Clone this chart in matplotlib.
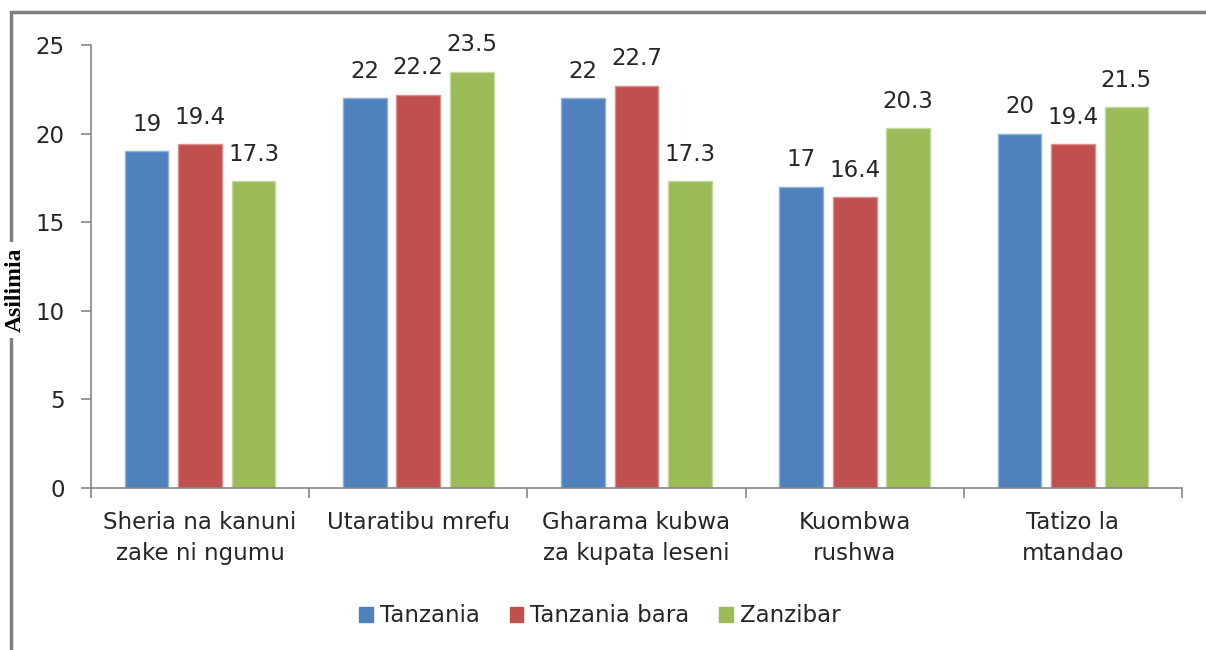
import matplotlib
matplotlib.use("Agg")
import matplotlib.pyplot as plt
import numpy as np
from matplotlib.patches import Rectangle

categories = ["Sheria na kanuni\nzake ni ngumu", "Utaratibu mrefu",
              "Gharama kubwa\nza kupata leseni", "Kuombwa\nrushwa", "Tatizo la\nmtandao"]
series_names = ["Tanzania", "Tanzania bara", "Zanzibar"]
tanzania = [19, 22, 22, 17, 20]
tanzania_bara = [19.4, 22.2, 22.7, 16.4, 19.4]
zanzibar = [17.3, 23.5, 17.3, 20.3, 21.5]
label_tanzania = ["19", "22", "22", "17", "20"]
label_bara = ["19.4", "22.2", "22.7", "16.4", "19.4"]
label_zanzibar = ["17.3", "23.5", "17.3", "20.3", "21.5"]
yticks = [0, 5, 10, 15, 20, 25]

colors = ["#4F81BD", "#C0504D", "#9BBB59"]
edges = ["#8FB0D8", "#DC8E8C", "#C3D89A"]

plt.rcParams['font.family'] = ['DejaVu Sans']
FS = 16.5
TC = "#262626"

fig = plt.figure(figsize=(12.06, 6.5), dpi=100)
ax = fig.add_axes([91/1206, 1-488/650, (1182-91)/1206, (488-45)/650])

x = np.arange(len(categories))
w = 0.2
step = 0.245
data = [tanzania, tanzania_bara, zanzibar]
labels = [label_tanzania, label_bara, label_zanzibar]
for i, (vals, labs) in enumerate(zip(data, labels)):
    pos = x + (i - 1) * step
    ax.bar(pos, vals, width=w, color=colors[i], edgecolor=edges[i],
           linewidth=1, label=series_names[i], zorder=2)
    for p, v, l in zip(pos, vals, labs):
        ax.annotate(l, (p, v), xytext=(0, 11), textcoords="offset points",
                    ha="center", va="bottom", fontsize=FS, color=TC)

ax.set_xlim(-0.5, len(categories) - 0.5)
ax.set_ylim(0, 25)
ax.set_yticks(yticks)
ax.set_yticklabels([str(t) for t in yticks], fontsize=FS, color=TC)
ax.set_xticks(np.arange(len(categories) + 1) - 0.5)
ax.set_xticklabels([])
ax.tick_params(axis='x', direction='out', length=7, color="#868686", width=1.2)
ax.tick_params(axis='y', direction='out', length=7, color="#868686", width=1.2, pad=12)
for i, c in enumerate(categories):
    ax.text(i, -1.3, c, ha="center", va="top", fontsize=FS, color=TC,
            linespacing=1.45)
for s in ["top", "right"]:
    ax.spines[s].set_visible(False)
for s in ["left", "bottom"]:
    ax.spines[s].set_color("#868686")
    ax.spines[s].set_linewidth(1.2)

# outer frame
fig.patches.append(Rectangle((11/1206, -0.1), 1.2, 1 - 12/650 + 0.1,
                             transform=fig.transFigure, fill=False,
                             edgecolor="#808080", linewidth=2.5, zorder=0))
fig.text(15/1206, 1-290/650, "Asilimia", rotation=90, ha="center", va="center",
         fontsize=17, fontweight="bold", family="Liberation Serif",
         bbox=dict(facecolor="white", edgecolor="none", pad=4))

handles = [Rectangle((0, 0), 1, 1, color=c) for c in colors]
fig.legend(handles, series_names, loc="center", bbox_to_anchor=(600/1206, 1-616/650),
           ncol=3, frameon=False, fontsize=FS, handlelength=0.6, handleheight=0.6,
           columnspacing=1.3, handletextpad=0.3, labelcolor=TC)

fig.savefig("out.png", dpi=100)
